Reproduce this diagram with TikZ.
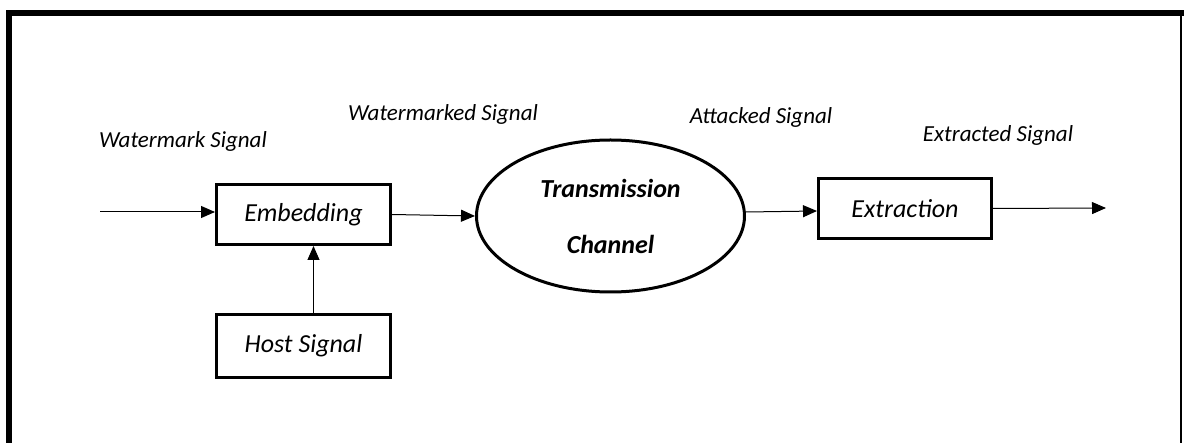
\documentclass[tikz,border=0pt]{standalone}
\usepackage{fontspec}
\setmainfont{Carlito}
\usepackage{tikz}
\usetikzlibrary{shapes.geometric, positioning, arrows.meta}
\tikzset{%
  block/.style={
    draw, rectangle, line width=3pt,
    minimum width=174pt, minimum height=60pt,
    font=\fontsize{26}{30}\selectfont\itshape},
  chanshape/.style={
    draw, ellipse, line width=3pt, inner sep=0pt,
    minimum width=268pt, minimum height=152pt, align=center,
    font=\fontsize{26}{56}\selectfont\bfseries\itshape},
  lbl/.style={
    font=\fontsize{23}{27}\selectfont\itshape},
  sig/.style={
    draw,
    -{Triangle[length=14pt,width=12pt]},
    line width=1pt} %
}

\begin{document}
\begin{tikzpicture}[x=1pt, y=-1pt]
    \useasboundingbox (0,0) rectangle (1184,443);

    % frame
    \draw[line width=6pt] (9,470) -- (9,13) -- (1184,13);
    \draw[line width=2pt] (1181,13) -- (1181,470);

    \node[block] (emb) at (303.5,214.5) {Embedding};
    \node[block, minimum height=63pt, below=67pt of emb] (host) {Host Signal};
    \node[chanshape] (chan) at (610.5,216) {Transmission\\Channel};
    \node[block, minimum width=173pt] (extr) at (905,208.5) {Extraction};

    \coordinate (in) at (100,212);
    \coordinate (out) at (1106,208);

    \node[lbl] (wmk) at (183,141) {Watermark Signal};
    \node[lbl] (wmkd) at (443,114) {Watermarked Signal};
    \node[lbl] (att) at (761,117) {Attacked Signal};
    \node[lbl] (ext) at (998,135) {Extracted Signal};

    \draw[sig] (in) -- (in -| emb.west);
    \draw[sig] (emb.east) -- (chan.west);
    \draw[sig] ([yshift=4pt]chan.east) -- ([yshift=-2.5pt]extr.west);
    \draw[sig] (extr.east) -- (out);
    \draw[sig] ([xshift=10pt]host.north) -- ([xshift=10pt]host.north |- emb.south);

\end{tikzpicture}
\end{document}
